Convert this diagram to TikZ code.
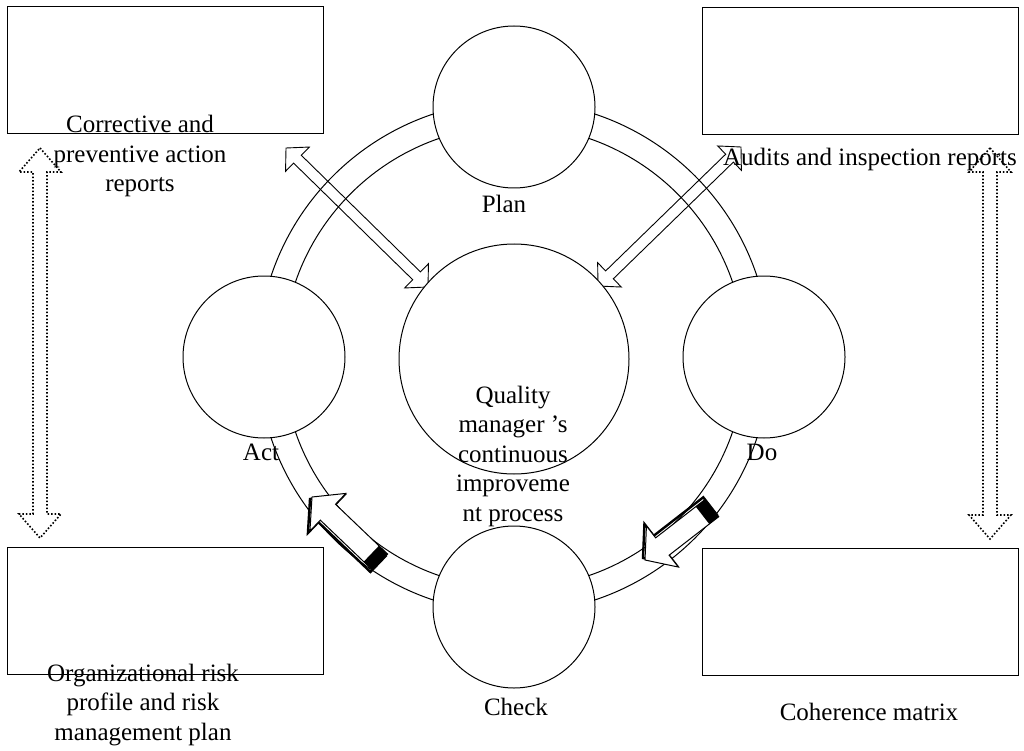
\documentclass[tikz,border=0pt]{standalone}
\usepackage{fontspec}
\setmainfont{Liberation Serif}
\usetikzlibrary{calc}

% hollow arrow with a head at both ends: [style]{from}{to}{head length}{head half width}{shaft half width}
\newcommand{\twoway}[6][]{%
  \coordinate (tw1) at ($(#2)!#4!(#3)$);
  \coordinate (tw2) at ($(#3)!#4!(#2)$);
  \draw[#1] (#2) -- ($(tw1)!#5!90:(#3)$) -- ($(tw1)!#6!90:(#3)$) -- ($(tw2)!#6!-90:(#2)$)
    -- ($(tw2)!#5!-90:(#2)$) -- (#3) -- ($(tw2)!#5!90:(#2)$) -- ($(tw2)!#6!90:(#2)$)
    -- ($(tw1)!#6!-90:(#3)$) -- ($(tw1)!#5!-90:(#3)$) -- cycle;}

% shaded block arrow on the ring: {tail}{tip}{shadow shift}
\newcommand{\ringarrow}[3]{%
  \coordinate (ra1) at ($(#2)!22pt!(#1)$);
  \coordinate (ra2) at ($(#1)!12pt!(#2)$);
  \begin{scope}[transform canvas={shift={(#3)}}]
  \draw[line width=2.4pt,line join=miter] (#2) -- ($(ra1)!26pt!90:(#1)$) -- ($(ra1)!11pt!90:(#1)$) -- ($(#1)!11pt!-90:(#2)$)
    -- ($(#1)!11pt!90:(#2)$) -- ($(ra1)!11pt!-90:(#1)$) -- ($(ra1)!26pt!-90:(#1)$) -- cycle;
  \end{scope}
  \filldraw[fill=white,line join=miter] (#2) -- ($(ra1)!26pt!90:(#1)$) -- ($(ra1)!11pt!90:(#1)$) -- ($(#1)!11pt!-90:(#2)$)
    -- ($(#1)!11pt!90:(#2)$) -- ($(ra1)!11pt!-90:(#1)$) -- ($(ra1)!26pt!-90:(#1)$) -- cycle;
  \fill ($(#1)!11pt!-90:(#2)$) -- ($(#1)!11pt!90:(#2)$) -- ($(ra2)!11pt!90:(#2)$) -- ($(ra2)!11pt!-90:(#2)$) -- cycle;}

\begin{document}
\begin{tikzpicture}[x=1pt,y=-1pt,line width=1pt,
 doc/.style={draw,minimum width=316pt,minimum height=127pt,inner sep=0pt},
 stage/.style={draw,circle,fill=white,minimum size=162pt,inner sep=0pt},
 lbl/.style={align=center,inner sep=0pt,font=\fontsize{25}{29.5}\selectfont},
 openarrow/.style={line width=0.9pt,line join=miter},
 dotarrow/.style={line width=1.6pt,dash pattern=on 1.6pt off 1.9pt}]
\useasboundingbox (0,0) rectangle (1024,751);

% documents in the corners
\node[doc] (corr) at (165,70.5) {};
\node[doc] (audit) at (860.5,71) {};
\node[doc] (risk) at (165,611) {};
\node[doc] (coher) at (860.5,612) {};

% PDCA ring
\coordinate (hub) at (514,357);
\draw (hub) circle (256) (hub) circle (231);

% links to the quality manager
\coordinate (corrTip) at (286,148);
\coordinate (auditTip) at (741,147);
\coordinate (qmL) at (428,287);
\coordinate (qmR) at (598,286);
\twoway[openarrow]{corrTip}{qmL}{16pt}{17pt}{5.5pt}
\twoway[openarrow]{auditTip}{qmR}{16pt}{17pt}{5.5pt}

% dotted links between the documents
\coordinate (corrD) at (40,148);
\coordinate (riskD) at (40,538);
\coordinate (auditD) at (990,148);
\coordinate (coherD) at (990,539);
\twoway[dotarrow]{corrD}{riskD}{24pt}{21pt}{7pt}
\twoway[dotarrow]{auditD}{coherD}{24pt}{21pt}{7pt}

% stages
\node[stage] (plan) at (514,107) {};
\node[stage] (act) at (264,357) {};
\node[stage] (do) at (764,357) {};
\node[stage] (check) at (514,607) {};
\node[stage,minimum size=230pt] (qm) at (514,359) {};

% direction of the cycle
\coordinate (ckTail) at (380,562);
\coordinate (actTip) at (312,497);
\coordinate (doTail) at (712,508);
\coordinate (ckTip) at (645,560);
\ringarrow{ckTail}{actTip}{-2,2}
\ringarrow{doTail}{ckTip}{-2,-2}

% labels
\node[lbl] (planL) at (504,204) {Plan};
\node[lbl] (actL) at (261,452) {Act};
\node[lbl] (doL) at (762,452) {Do};
\node[lbl] (checkL) at (516,707) {Check};
\node[lbl] (qmL2) at (513,456) {Quality\\manager ’s\\continuous\\improveme\\nt process};
\node[lbl] (corrL) at (140,156) {Corrective and\\preventive action\\reports};
\node[lbl] (auditL) at (870,159) {Audits and inspection reports};
\node[lbl] (riskL) at (143,705) {Organizational risk\\profile and risk\\management plan};
\node[lbl] (coherL) at (869,712) {Coherence matrix};
\end{tikzpicture}
\end{document}
